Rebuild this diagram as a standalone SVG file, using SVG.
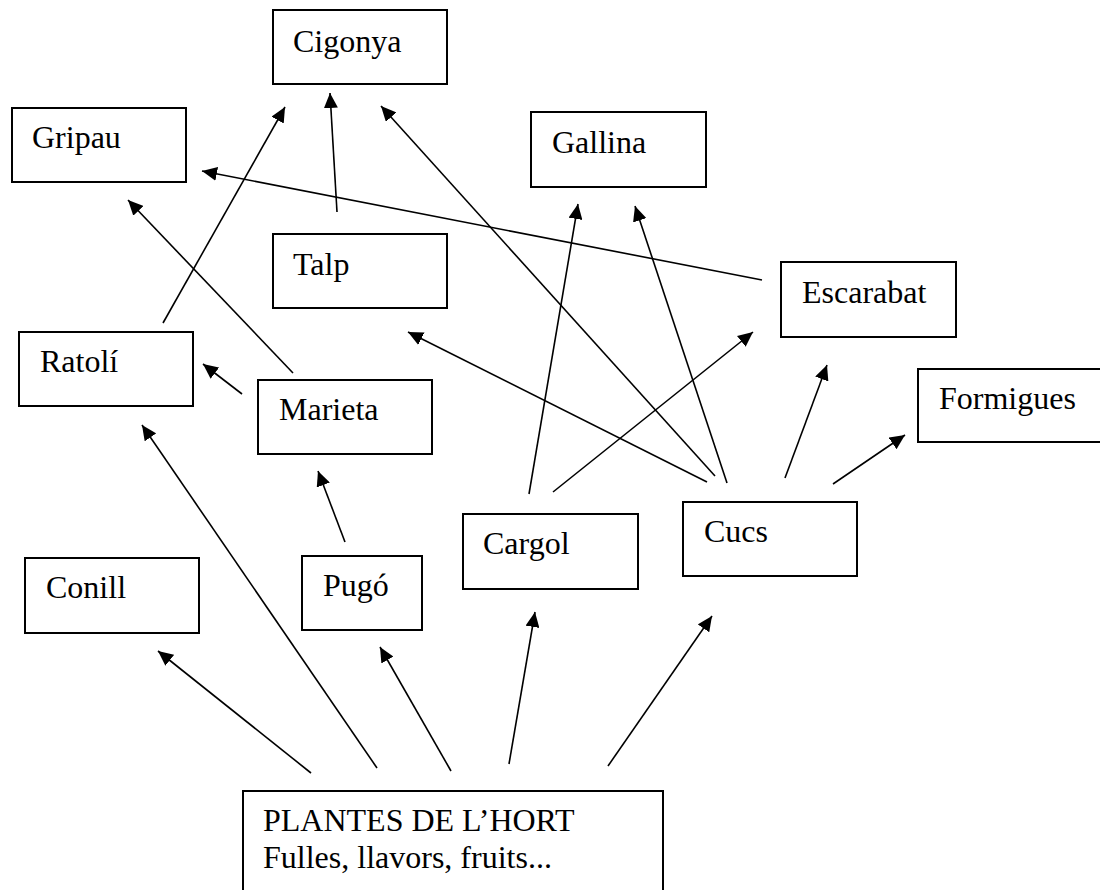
<svg xmlns="http://www.w3.org/2000/svg" width="1100" height="890" viewBox="0 0 1100 890">
<style>
.box{fill:#fff;stroke:#000;stroke-width:2}
.lbl{font-family:"Liberation Serif","Times New Roman",serif;font-size:32px;fill:#000}
.edge{stroke:#000;stroke-width:1.6;fill:none;marker-end:url(#ah)}
</style>
<defs>
<marker id="ah" markerUnits="userSpaceOnUse" markerWidth="16" markerHeight="14" refX="15" refY="7" orient="auto">
<path d="M0,0 L15,7 L0,14 z" fill="#000"/>
</marker>
</defs>
<rect width="1100" height="890" fill="#fff"/>
<g id="connectors">
<line class="edge" x1="163" y1="323" x2="285" y2="107"/>
<line class="edge" x1="337" y1="212" x2="330" y2="93"/>
<line class="edge" x1="715" y1="476" x2="381" y2="106"/>
<line class="edge" x1="762" y1="280" x2="202" y2="171"/>
<line class="edge" x1="293" y1="373" x2="128" y2="200"/>
<line class="edge" x1="242" y1="394" x2="203" y2="364"/>
<line class="edge" x1="345" y1="542" x2="318" y2="471"/>
<line class="edge" x1="707" y1="482" x2="408" y2="332"/>
<line class="edge" x1="529" y1="494" x2="578" y2="204"/>
<line class="edge" x1="727" y1="483" x2="635" y2="206"/>
<line class="edge" x1="553" y1="492" x2="753" y2="332"/>
<line class="edge" x1="785" y1="478" x2="827" y2="365"/>
<line class="edge" x1="833" y1="484" x2="905" y2="435"/>
<line class="edge" x1="311" y1="773" x2="158" y2="651"/>
<line class="edge" x1="377" y1="768" x2="142" y2="425"/>
<line class="edge" x1="451" y1="771" x2="380" y2="647"/>
<line class="edge" x1="509" y1="764" x2="535" y2="612"/>
<line class="edge" x1="608" y1="766" x2="712" y2="616"/>
</g>
<g id="cigonya"><rect class="box" x="273" y="10" width="174" height="74"/><text class="lbl" x="293" y="52">Cigonya</text></g>
<g id="gripau"><rect class="box" x="12" y="108" width="174" height="74"/><text class="lbl" x="32" y="148">Gripau</text></g>
<g id="gallina"><rect class="box" x="531" y="112" width="175" height="75"/><text class="lbl" x="552" y="153">Gallina</text></g>
<g id="talp"><rect class="box" x="273" y="234" width="174" height="74"/><text class="lbl" x="293" y="275">Talp</text></g>
<g id="escarabat"><rect class="box" x="781" y="262" width="175" height="75"/><text class="lbl" x="802" y="303">Escarabat</text></g>
<g id="ratoli"><rect class="box" x="19" y="332" width="174" height="74"/><text class="lbl" x="40" y="372">Ratolí</text></g>
<g id="marieta"><rect class="box" x="258" y="380" width="174" height="74"/><text class="lbl" x="279" y="420">Marieta</text></g>
<g id="formigues"><rect class="box" x="918" y="369" width="200" height="73"/><text class="lbl" x="939" y="409">Formigues</text></g>
<g id="cargol"><rect class="box" x="463" y="514" width="175" height="75"/><text class="lbl" x="483" y="554">Cargol</text></g>
<g id="cucs"><rect class="box" x="683" y="502" width="174" height="74"/><text class="lbl" x="704" y="542">Cucs</text></g>
<g id="conill"><rect class="box" x="25" y="558" width="174" height="75"/><text class="lbl" x="46" y="598">Conill</text></g>
<g id="pugo"><rect class="box" x="302" y="556" width="120" height="74"/><text class="lbl" x="323" y="596">Pugó</text></g>
<g id="plantes"><rect class="box" x="243" y="791" width="420" height="120"/><text class="lbl" x="263" y="831">PLANTES DE L’HORT</text><text class="lbl" x="263" y="868">Fulles, llavors, fruits...</text></g>
</svg>
